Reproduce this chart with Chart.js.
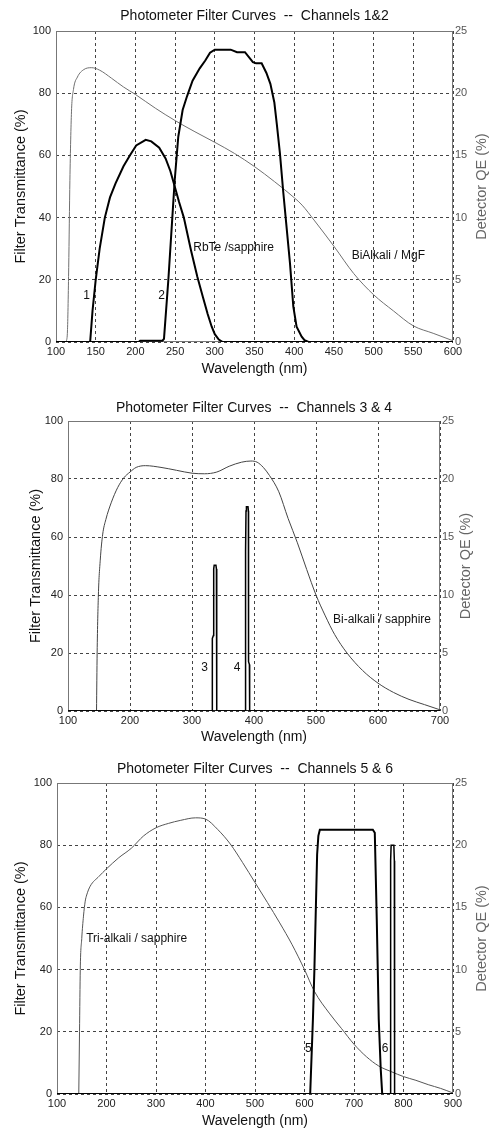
<!DOCTYPE html>
<html><head><meta charset="utf-8">
<script src="https://cdn.jsdelivr.net/npm/chart.js@4"></script>
<style>
html,body{margin:0;padding:0;background:#fff;}
body{width:491px;height:1130px;position:relative;overflow:hidden;}
.box{position:absolute;left:0;width:491px;}
canvas{display:block;}
</style></head><body>
<div class="box" style="top:0;height:380px"><canvas id="c1" width="491" height="380"></canvas></div>
<div class="box" style="top:380px;height:370px"><canvas id="c2" width="491" height="370"></canvas></div>
<div class="box" style="top:750px;height:380px"><canvas id="c3" width="491" height="380"></canvas></div>
<script>
// ---------- tick labels ----------
const xTicks1 = [100,150,200,250,300,350,400,450,500,550,600];
const xTicks2 = [100,200,300,400,500,600,700];
const xTicks3 = [100,200,300,400,500,600,700,800,900];
const yTicks  = [0,20,40,60,80,100];
const qeTicks = [0,5,10,15,20,25];

// ---------- titles ----------
const titles = [
  'Photometer Filter Curves  --  Channels 1&2',
  'Photometer Filter Curves  --  Channels 3 & 4',
  'Photometer Filter Curves  --  Channels 5 & 6'
];

// ---------- chart 1 series: [wavelength nm, value] ----------
const filter1 = [[100,0],[143,0],[146,10],[150,20],[155,30],[161.5,40],[168,46.5],[175,51],[185,56.5],[193,60],[201,63.2],[213,65],[220,64.5],[230,62.5],[238,59],[244,55],[249,50.5],[255,45],[261,40],[270,29.5],[278,21],[285,14.5],[291,9],[296,5],[300,2.5],[305,0.8],[310,0],[600,0]];
const filter2 = [[100,0],[204,0],[206,0.4],[234,0.4],[236,1],[241.5,20],[246.5,40],[249.5,52],[254,66],[259.5,74.6],[265,79],[272,84],[281,88],[288,90.5],[294,93],[300,94],[320,94],[328,93.2],[338,93.2],[348,90],[352,89.6],[359,89.6],[365,86.5],[370,83],[375,77],[378,70.3],[382,60.7],[386.3,48],[390,38],[394.7,25.3],[398.9,11.4],[403,4.9],[409.4,1.7],[413,0.6],[418,0],[600,0]];
const qe1 = [[113,0],[114.5,1],[116,6],[117.5,13],[119.5,18.5],[122,20.3],[127,21.3],[135,21.9],[145,22.05],[155,21.85],[170,21.2],[185,20.5],[200,19.9],[225,18.8],[250,17.8],[275,16.9],[300,16.05],[325,15.15],[350,14.1],[375,12.9],[400,11.6],[410,11],[425,9.8],[450,7.7],[475,5.5],[500,3.8],[525,2.5],[550,1.3],[575,0.7],[600,0.1]];
const notes1 = [
  {text:'1', x:138.6, y:15, align:'center'},
  {text:'2', x:233, y:15, align:'center'},
  {text:'RbTe /sapphire', x:272.9, y:30.4, align:'left'},
  {text:'BiAlkali / MgF', x:472.4, y:27.6, align:'left'}
];

// ---------- chart 2 series ----------
const filter3 = [[100,0],[332.5,0],[332.8,25],[334.5,26],[335,49],[335.8,50.3],[338.6,50.3],[339.4,49],[339.9,0],[700,0]];
const filter4 = [[100,0],[385.8,0],[386,53],[386.8,55],[387.1,69],[387.8,70.4],[390.3,70.4],[391,69],[391.2,17],[392.6,16],[393,0],[700,0]];
const qe2 = [[146,0],[147,5],[149,10],[152,13],[156,15.25],[161,16.5],[170,18],[180,19.25],[190,20.1],[200,20.6],[210,21],[225,21.15],[250,21],[275,20.75],[300,20.5],[320,20.45],[340,20.6],[360,21.1],[380,21.45],[395,21.55],[405,21.45],[415,21],[425,20.3],[440,18.9],[455,16.6],[470,14.5],[485,12.2],[500,10],[515,8.2],[530,6.6],[550,5],[575,3.5],[600,2.4],[625,1.6],[650,1],[675,0.55],[700,0.1]];
const notes2 = [
  {text:'3', x:320.5, y:14.9, align:'center'},
  {text:'4', x:372.6, y:14.9, align:'center'},
  {text:'Bi-alkali / sapphire', x:527.4, y:31.6, align:'left'}
];

// ---------- chart 3 series ----------
const filter5 = [[100,0],[611.5,0],[617,24],[620,40],[625.5,77],[628,83],[631,85],[738,85],[742,84],[746,56],[750,24],[754,8],[757,0],[900,0]];
const filter6 = [[100,0],[773.5,0],[774,75],[775,80],[780.5,80],[781.5,75],[782,0],[900,0]];
const qe3 = [[144,0],[145.5,5],[147,10],[150,12.5],[153.5,14.3],[157,15.5],[160,16],[167,16.7],[185,17.5],[200,18.1],[225,19],[250,19.75],[275,20.75],[300,21.4],[325,21.75],[350,22],[380,22.2],[400,22.1],[425,21.25],[450,20.1],[475,18.6],[500,17],[525,15.4],[550,13.75],[575,12],[600,10],[620,8.25],[650,6.5],[675,5.25],[700,4],[725,3],[750,2.25],[775,1.8],[800,1.4],[825,1.1],[850,0.75],[875,0.45],[900,0.08]];
const notes3 = [
  {text:'Tri-alkali / sapphire', x:159, y:50, align:'left'},
  {text:'5', x:608, y:14.7, align:'center'},
  {text:'6', x:763, y:14.7, align:'center'}
];

// ---------- rendering ----------
const FONT = '"Liberation Sans", Arial, Helvetica, sans-serif';
Chart.defaults.font.family = FONT;
Chart.defaults.color = '#222';

const toXY = arr => arr.map(p => ({x:p[0], y:p[1]}));
const setTicks = arr => scale => { scale.ticks = arr.map(v => ({value:v})); };

const deco = {
  id: 'deco',
  beforeDatasetsDraw(chart, args, opts) {
    const {ctx, chartArea:a} = chart;
    ctx.save();
    ctx.strokeStyle = '#777';
    ctx.lineWidth = 1;
    ctx.strokeRect(Math.round(a.left)+0.5, Math.round(a.top)+0.5, Math.round(a.right-a.left)-1, Math.round(a.bottom-a.top)-1);
    ctx.restore();
  },
  afterDatasetsDraw(chart, args, opts) {
    const {ctx, scales} = chart;
    ctx.save();
    ctx.font = '12px ' + FONT;
    ctx.fillStyle = '#111';
    ctx.textBaseline = 'middle';
    opts.notes.forEach(n => {
      ctx.textAlign = n.align;
      ctx.fillText(n.text, scales.x.getPixelForValue(n.x), scales.y.getPixelForValue(n.y));
    });
    ctx.restore();
  },
  afterDraw(chart, args, opts) {
    const {ctx, scales} = chart;
    const r = scales.yQE;
    ctx.save();
    ctx.translate(r.right - opts.rtPad, (r.top + r.bottom) / 2);
    ctx.rotate(-Math.PI / 2);
    ctx.font = '14.5px ' + FONT;
    ctx.fillStyle = '#666';
    ctx.textAlign = 'center';
    ctx.textBaseline = 'middle';
    ctx.fillText('Detector QE (%)', 0, 0);
    ctx.restore();
  }
};

function make(id, g) {
  const filterSets = g.filters.map(f => ({
    data: toXY(f.data), yAxisID: 'y', borderColor: '#000', borderWidth: f.w,
    pointRadius: 0, tension: 0, fill: false
  }));
  const qeSet = {
    data: toXY(g.qe), yAxisID: 'yQE', borderColor: g.qeColor, borderWidth: 1,
    pointRadius: 0, cubicInterpolationMode: 'monotone', fill: false
  };
  const gridOpt = {display: true, color: '#444', lineWidth: 1, drawTicks: false};
  new Chart(document.getElementById(id), {
    type: 'line',
    data: {datasets: filterSets.concat([qeSet])},
    options: {
      responsive: false, animation: false, devicePixelRatio: 1,
      layout: {padding: 0},
      plugins: {
        legend: {display: false}, tooltip: {enabled: false},
        title: {display: true, text: g.title, fullSize: false, color: '#111',
          font: {size: 14, weight: 'normal'}, padding: {top: g.tTop, bottom: g.tBot}},
        deco: {notes: g.notes, rtPad: g.rtPad}
      },
      scales: {
        x: {type: 'linear', position: 'bottom', min: g.xTicks[0], max: g.xTicks[g.xTicks.length-1],
          afterBuildTicks: setTicks(g.xTicks),
          afterFit: s => { s.height = g.bottom; },
          grid: gridOpt, border: {display: false, dash: [3,3]},
          ticks: {font: {size: 11}, color: '#222', padding: 3, maxRotation: 0, autoSkip: false},
          title: {display: true, text: 'Wavelength (nm)', color: '#111', font: {size: 14}, padding: {top: 0, bottom: g.xtPad}}
        },
        y: {type: 'linear', position: 'left', min: 0, max: 100,
          afterBuildTicks: setTicks(yTicks),
          afterFit: s => { s.width = g.left; },
          grid: gridOpt, border: {display: false, dash: [3,3]},
          ticks: {font: {size: 11}, color: '#222', padding: 5},
          title: {display: true, text: 'Filter Transmittance (%)', color: '#111', font: {size: 14.5}, padding: {top: g.ltPad, bottom: 0}}
        },
        yQE: {type: 'linear', position: 'right', min: 0, max: 25,
          afterBuildTicks: setTicks(qeTicks),
          afterFit: s => { s.width = g.right; },
          grid: {display: false, drawTicks: false}, border: {display: false},
          ticks: {font: {size: 11}, color: '#555', padding: 2}
        }
      }
    },
    plugins: [deco]
  });
}

make('c1', {title: titles[0], xTicks: xTicks1, left: 56, right: 38, bottom: 38, tTop: 7.6, tBot: 6.6, ltPad: 12, xtPad: 2.6, rtPad: 9.3,
  filters: [{data: filter1, w: 2}, {data: filter2, w: 2}], qe: qe1, qeColor: '#707070', notes: notes1});
make('c2', {title: titles[1], xTicks: xTicks2, left: 68, right: 51, bottom: 39, tTop: 19.6, tBot: 4.6, ltPad: 27.3, xtPad: 4.6, rtPad: 25.3,
  filters: [{data: filter3, w: 1.5}, {data: filter4, w: 1.5}], qe: qe2, qeColor: '#444', notes: notes2});
make('c3', {title: titles[2], xTicks: xTicks3, left: 57, right: 38, bottom: 36, tTop: 10.6, tBot: 5.6, ltPad: 12.1, xtPad: 0.6, rtPad: 9.3,
  filters: [{data: filter5, w: 2}, {data: filter6, w: 1.5}], qe: qe3, qeColor: '#555', notes: notes3});
</script>
</body></html>
